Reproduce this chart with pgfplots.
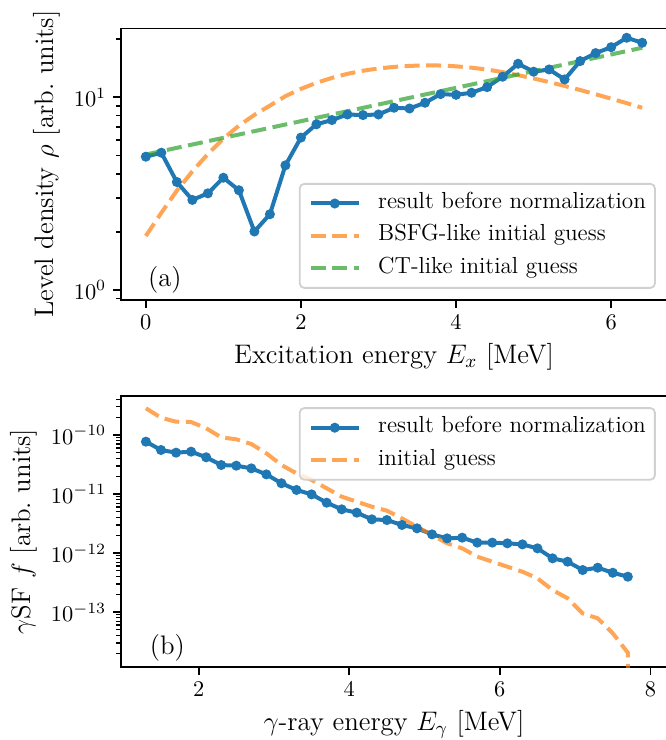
\RequirePackage{fix-cm}
\documentclass[border=0pt]{standalone}
\usepackage{pgfplots}
\pgfplotsset{compat=1.18}
\usepackage{pgfplotstable}

\definecolor{tabblue}{HTML}{1F77B4}
\definecolor{taborange}{HTML}{FF7F0E}
\definecolor{tabgreen}{HTML}{2CA02C}

% (a) level density
\pgfplotstableread{
Ex rho
0.0 4.91
0.2 5.15
0.4 3.63
0.6 2.93
0.8 3.17
1.0 3.82
1.2 3.29
1.4 2.01
1.6 2.47
1.8 4.43
2.0 6.17
2.2 7.23
2.4 7.61
2.6 8.13
2.8 8.07
3.0 8.13
3.2 8.81
3.4 8.73
3.6 9.35
3.8 10.37
4.0 10.28
4.2 10.54
4.4 11.27
4.6 12.76
4.8 14.90
5.0 13.55
5.2 13.92
5.4 12.36
5.6 15.38
5.8 16.92
6.0 18.16
6.2 20.32
6.4 19.15
}\nldresult

\pgfplotstableread{
Ex rho
0.0 1.905
0.2 2.512
0.4 3.273
0.6 4.121
0.8 5.070
1.0 6.095
1.2 7.112
1.4 8.091
1.6 9.036
1.8 10.12
2.0 11.04
2.2 11.86
2.4 12.59
2.6 13.21
2.8 13.71
3.0 14.09
3.2 14.35
3.4 14.52
3.6 14.62
3.8 14.59
4.0 14.45
4.2 14.22
4.4 13.90
4.6 13.49
4.8 13.00
5.0 12.50
5.2 11.97
5.4 11.43
5.6 10.89
5.8 10.35
6.0 9.82
6.2 9.31
6.4 8.81
}\nldbsfg

\pgfplotstableread{
Ex rho
0.0 5.04
1.6 6.93
3.2 9.53
4.8 13.11
6.4 18.03
}\nldct

% (b) gamma-ray strength function
\pgfplotstableread{
Eg f
1.3 7.71e-11
1.5 5.57e-11
1.7 5.02e-11
1.9 5.22e-11
2.1 4.19e-11
2.3 3.10e-11
2.5 3.02e-11
2.7 2.72e-11
2.9 2.15e-11
3.1 1.52e-11
3.3 1.17e-11
3.5 9.86e-12
3.7 7.13e-12
3.9 5.50e-12
4.1 4.83e-12
4.3 3.72e-12
4.5 3.62e-12
4.7 2.99e-12
4.9 2.62e-12
5.1 2.07e-12
5.3 1.77e-12
5.5 1.82e-12
5.7 1.50e-12
5.9 1.50e-12
6.1 1.46e-12
6.3 1.40e-12
6.5 1.20e-12
6.7 8.13e-13
6.9 7.13e-13
7.1 5.15e-13
7.3 5.64e-13
7.5 4.63e-13
7.7 3.97e-13
}\gsfresult

\pgfplotstableread{
Eg f
1.3 2.84e-10
1.5 1.96e-10
1.7 1.68e-10
1.9 1.66e-10
2.1 1.30e-10
2.3 9.12e-11
2.5 8.45e-11
2.7 7.03e-11
2.9 4.89e-11
3.1 3.10e-11
3.3 2.24e-11
3.5 1.73e-11
3.7 1.25e-11
3.9 9.02e-12
4.1 7.41e-12
4.3 6.10e-12
4.5 5.22e-12
4.7 3.87e-12
4.9 2.79e-12
5.1 2.02e-12
5.3 1.46e-12
5.5 1.20e-12
5.7 8.67e-13
5.9 7.13e-13
6.1 5.86e-13
6.3 4.82e-13
6.5 3.72e-13
6.7 2.36e-13
6.9 1.71e-13
7.1 9.48e-14
7.3 7.82e-14
7.5 4.37e-14
7.7 2.04e-14
7.7 1e-15
}\gsfguess

\pgfplotsset{
  panel/.style={
    scale only axis, width=273pt,
    tick pos=left, tick align=outside,
    axis line style={line width=0.9pt},
    major tick style={line width=0.9pt, black},
    minor tick style={line width=0.65pt, black},
    major tick length=3.9pt, minor tick length=2.25pt,
    tick label style={font=\fontsize{11.2}{13.4}\selectfont},
    label style={font=\fontsize{13.4}{16}\selectfont},
    legend cell align=left,
    legend style={font=\fontsize{11.6}{13.9}\selectfont,
      draw=black!18, line width=0.9pt, rounded corners=2.2pt,
      fill=white, fill opacity=0.8, text opacity=1, draw opacity=1,
      inner xsep=4.5pt, inner ysep=4.3pt, row sep=5.2pt, column sep=8.7pt,
      nodes={inner sep=0pt, text height=8pt, text depth=3pt}},
    legend image code/.code={\draw[mark repeat=2,mark phase=2]
      plot coordinates {(0pt,0pt) (12pt,0pt) (24pt,0pt)};},
  },
  result/.style={tabblue, line width=2pt, mark=*, mark size=2.2pt,
    mark options={solid, fill opacity=1, line width=0.6pt}},
  guess/.style={line width=2pt, dash pattern=on 7.5pt off 3.3pt, draw opacity=0.7},
}

\begin{document}
\begin{tikzpicture}

\begin{axis}[panel, at={(60.5pt,220pt)}, anchor=south west, height=135.75pt,
  ymode=log, xmin=-0.32, xmax=6.72, ymin=0.887, ymax=22.7,
  xtick={0,2,4,6}, ytick={1,10}, minor ytick={0.9,2,3,4,5,6,7,8,9,20},
  xlabel={Excitation energy $E_x$ [MeV]},
  ylabel={Level density $\rho$ [arb.\ units]},
  legend style={at={(1,0)}, anchor=south east, xshift=-5.6pt, yshift=5.6pt},
]
\addplot[result] table[x=Ex, y=rho] {\nldresult};
\addlegendentry{result before normalization}
\addplot[guess, taborange] table[x=Ex, y=rho] {\nldbsfg};
\addlegendentry{BSFG-like initial guess}
\addplot[guess, tabgreen] table[x=Ex, y=rho] {\nldct};
\addlegendentry{CT-like initial guess}
\node[anchor=west, inner sep=0pt, font=\fontsize{13.4}{16}\selectfont]
  at (rel axis cs:0.049,0.074) {(a)};
\end{axis}

\begin{axis}[panel, at={(60.5pt,36.5pt)}, anchor=south west, height=135.5pt,
  ymode=log, xmin=0.969, xmax=8.22, ymin=1.17e-14, ymax=4.58e-10,
  xtick={2,4,6,8}, ytick={1e-13,1e-12,1e-11,1e-10},
  minor ytick={2e-14,3e-14,4e-14,5e-14,6e-14,7e-14,8e-14,9e-14,
    2e-13,3e-13,4e-13,5e-13,6e-13,7e-13,8e-13,9e-13,
    2e-12,3e-12,4e-12,5e-12,6e-12,7e-12,8e-12,9e-12,
    2e-11,3e-11,4e-11,5e-11,6e-11,7e-11,8e-11,9e-11,
    2e-10,3e-10,4e-10},
  xlabel={$\gamma$-ray energy $E_\gamma$ [MeV]},
  ylabel={$\gamma$SF $f$ [arb.\ units]},
  legend style={at={(1,1)}, anchor=north east, xshift=-5.6pt, yshift=-5.6pt},
]
\addplot[result] table[x=Eg, y=f] {\gsfresult};
\addlegendentry{result before normalization}
\addplot[guess, taborange] table[x=Eg, y=f] {\gsfguess};
\addlegendentry{initial guess}
\node[anchor=west, inner sep=0pt, font=\fontsize{13.4}{16}\selectfont]
  at (rel axis cs:0.052,0.072) {(b)};
\end{axis}

\pgfresetboundingbox
\useasboundingbox (0,0) rectangle (332.5pt,370pt);
\end{tikzpicture}
\end{document}
